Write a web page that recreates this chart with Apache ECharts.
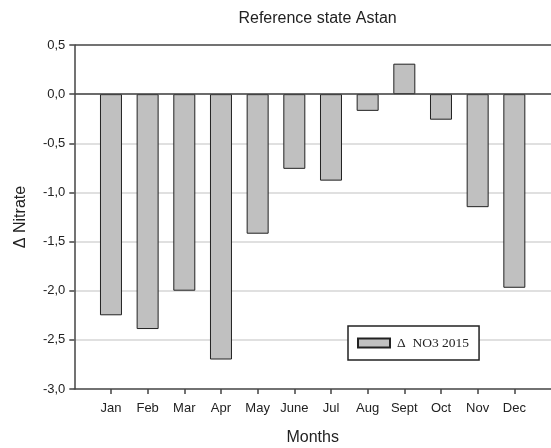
<!DOCTYPE html>
<html>
<head>
<meta charset="utf-8">
<script src="https://cdn.jsdelivr.net/npm/echarts@6/dist/echarts.min.js"></script>
<style>
  html, body { margin: 0; padding: 0; background: #fff; }
  #chart { width: 551px; height: 448px; }
</style>
</head>
<body>
<div id="chart"></div>
<script>
// Monthly change in nitrate for the Astan reference state
const months = ['Jan', 'Feb', 'Mar', 'Apr', 'May', 'June', 'Jul', 'Aug', 'Sept', 'Oct', 'Nov', 'Dec'];
const no3Delta2015 = [-2.25, -2.39, -2.00, -2.70, -1.42, -0.76, -0.88, -0.17, 0.31, -0.26, -1.15, -1.97];
const seriesName = 'Δ  NO3 2015';
const monthPositions = months.map((m, i) => i + 1);

const sans = 'Liberation Sans, Arial, sans-serif';
const serif = 'Liberation Serif, Times New Roman, serif';
const axisDark = '#444';

const chart = echarts.init(document.getElementById('chart'), null, { renderer: 'canvas' });

chart.setOption({
  animation: false,
  backgroundColor: '#fff',
  title: {
    text: 'Reference state Astan',
    left: 312.6,
    top: 6,
    textAlign: 'center',
    textStyle: { fontFamily: sans, fontSize: 16, fontWeight: 'normal', color: '#222' }
  },
  legend: {
    left: 348,
    top: 326,
    orient: 'horizontal',
    icon: 'rect',
    itemWidth: 32,
    itemHeight: 9,
    padding: [10, 10, 10, 9],
    borderColor: '#222',
    borderWidth: 1.5,
    backgroundColor: '#fff',
    textStyle: { fontFamily: serif, fontSize: 13.5, color: '#222', padding: [0, 0, 0, 2] },
    data: [seriesName]
  },
  grid: { left: 74.3, right: 0, top: 45, bottom: 59, containLabel: false, outerBoundsMode: 'none' },
  xAxis: {
    type: 'value',
    min: 0,
    max: 13,
    name: 'Months',
    nameLocation: 'middle',
    nameGap: 41,
    nameTextStyle: { fontFamily: sans, fontSize: 16, color: '#222' },
    splitLine: { show: false },
    axisLine: { show: true, onZero: false, lineStyle: { color: axisDark, width: 1.5 } },
    axisTick: { show: true, length: 5, customValues: monthPositions, lineStyle: { color: axisDark, width: 1.5 } },
    axisLabel: {
      customValues: monthPositions,
      margin: 13,
      fontFamily: sans,
      fontSize: 13,
      color: '#222',
      formatter: v => months[Math.round(v) - 1] || ''
    }
  },
  yAxis: {
    type: 'value',
    min: -3,
    max: 0.5,
    interval: 0.5,
    name: 'Δ Nitrate',
    nameLocation: 'middle',
    nameGap: 46,
    nameRotate: 90,
    nameTextStyle: { fontFamily: sans, fontSize: 16, color: '#222' },
    axisLine: { show: true, lineStyle: { color: axisDark, width: 1.5 } },
    axisTick: { show: true, length: 5, lineStyle: { color: axisDark, width: 1.5 } },
    axisLabel: {
      margin: 9,
      fontFamily: sans,
      fontSize: 13,
      color: '#222',
      formatter: v => v.toFixed(1).replace('.', ',')
    },
    splitLine: {
      show: true,
      showMinLine: false,
      showMaxLine: false,
      lineStyle: { color: '#d6d6d6', width: 1.5 }
    }
  },
  series: [{
    name: seriesName,
    type: 'bar',
    barWidth: 22,
    data: no3Delta2015.map((v, i) => [monthPositions[i], v]),
    itemStyle: { color: '#c0c0c0', borderColor: '#222', borderWidth: 1 },
    markLine: {
      silent: true,
      symbol: 'none',
      label: { show: false },
      lineStyle: { color: axisDark, width: 1.5, type: 'solid' },
      data: [{ yAxis: 0 }, { yAxis: 0.5 }]
    }
  }]
});
</script>
</body>
</html>
